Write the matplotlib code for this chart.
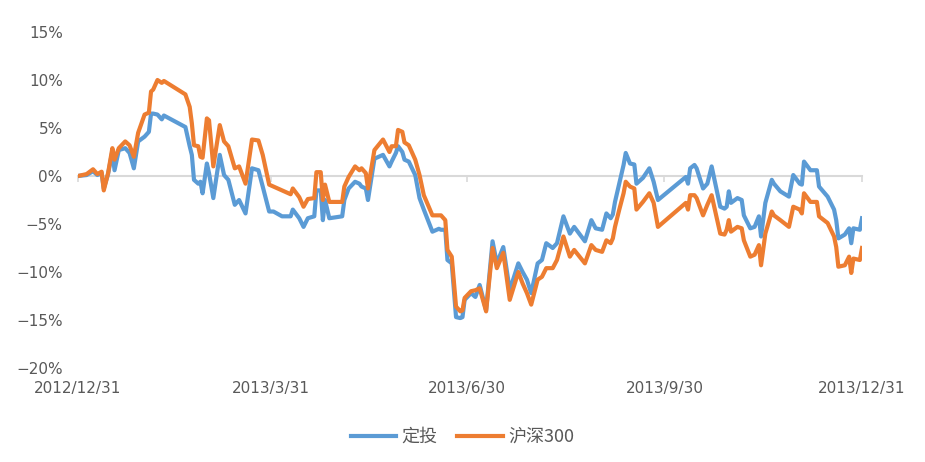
import numpy as np
import pandas as pd
import matplotlib
matplotlib.use("Agg")
import matplotlib.pyplot as plt
from matplotlib.ticker import FuncFormatter

plt.rcParams['font.family'] = ['DejaVu Sans', 'Noto Sans CJK SC']

# days after 2012/12/31
days = [0, 4, 7, 9, 11, 12, 14, 16, 17, 19, 22, 24, 26, 28, 31, 33, 34, 35, 37, 39,
        40, 50, 52, 53, 54, 56, 57, 58, 60, 61, 63, 66, 68, 70, 73, 75, 78, 81, 84, 86,
        89, 91, 95, 99, 100, 103, 105, 107, 110, 111, 113, 114, 115, 117, 123, 124, 126, 129, 131, 132,
        134, 135, 138, 142, 145, 146, 148, 149, 151, 152, 154, 157, 159, 161, 165, 168, 169, 171, 172, 174,
        176, 178, 179, 180, 183, 185, 187, 190, 193, 195, 198, 201, 205, 207, 209, 211, 214, 216, 218, 221,
        223, 226, 229, 231, 236, 239, 241, 244, 246, 248, 249, 250, 252, 254, 255, 257, 259, 260, 263, 266,
        268, 270, 283, 284, 285, 287, 288, 291, 293, 295, 299, 301, 302, 303, 304, 307, 309, 310, 313, 315,
        317, 318, 320, 323, 324, 327, 331, 333, 336, 337, 338, 341, 344, 345, 349, 352, 353, 354, 357, 359,
        360, 361, 364, 365]

dingtou = [0.0, 0.1, 0.5, 0.1, 0.3, -1.3, 0.2, 2.6, 0.6, 2.7, 2.9, 2.4, 0.8, 3.6, 4.1, 4.6, 6.5, 6.5, 6.4, 5.9,
           6.3, 5.1, 3.1, 2.2, -0.4, -0.8, -0.6, -1.8, 1.3, 0.3, -2.3, 2.2, 0.1, -0.4, -3.0, -2.5, -3.9, 0.8, 0.6, -1.1,
           -3.7, -3.7, -4.2, -4.2, -3.5, -4.4, -5.3, -4.4, -4.2, -1.5, -1.5, -4.6, -2.5, -4.4, -4.2, -2.5, -1.3, -0.6, -0.8, -1.1,
           -1.3, -2.5, 1.8, 2.2, 1.0, 1.5, 2.4, 3.1, 2.5, 1.7, 1.5, 0.1, -2.3, -3.5, -5.8, -5.5, -5.6, -5.6, -8.75, -9.1,
           -14.7, -14.8, -14.7, -12.9, -12.2, -12.6, -11.35, -14.0, -6.8, -9.1, -7.4, -11.9, -9.1, -10.0, -10.8, -12.2, -9.1, -8.75, -7.0, -7.5,
           -7.0, -4.2, -6.0, -5.3, -6.8, -4.6, -5.45, -5.6, -3.9, -4.4, -4.0, -2.7, -0.8, 1.15, 2.4, 1.3, 1.2, -0.8, -0.2, 0.8,
           -0.6, -2.5, -0.1, -0.8, 0.8, 1.15, 0.8, -1.3, -0.8, 1.0, -3.2, -3.4, -3.2, -1.6, -2.8, -2.3, -2.5, -4.1, -5.45, -5.3,
           -4.2, -6.3, -2.8, -0.4, -0.8, -1.6, -2.15, 0.1, -0.8, -0.9, 1.5, 0.6, 0.6, -1.1, -2.15, -3.5, -4.6, -6.5, -6.1, -5.45,
           -7.0, -5.45, -5.6, -4.4]

hs300 = [0.0, 0.2, 0.7, 0.2, 0.45, -1.5, 0.3, 2.9, 1.7, 2.9, 3.6, 3.2, 2.0, 4.5, 6.4, 6.6, 8.8, 9.0, 10.0, 9.7,
         9.9, 8.5, 7.2, 5.5, 3.2, 3.1, 2.0, 1.9, 6.0, 5.8, 1.0, 5.3, 3.6, 3.1, 0.8, 1.0, -0.8, 3.8, 3.7, 2.2,
         -0.9, -1.1, -1.5, -1.9, -1.3, -2.2, -3.2, -2.4, -2.3, 0.4, 0.4, -2.5, -0.9, -2.7, -2.7, -1.1, -0.1, 1.0, 0.6, 0.8,
         0.3, -1.3, 2.7, 3.8, 2.5, 3.1, 3.1, 4.8, 4.6, 3.5, 3.2, 1.7, 0.1, -2.0, -4.1, -4.1, -4.1, -4.6, -7.7, -8.4,
         -13.6, -14.1, -14.0, -12.7, -12.0, -11.9, -11.7, -14.1, -7.5, -9.6, -8.0, -12.9, -10.0, -11.2, -12.2, -13.4, -10.8, -10.5, -9.6, -9.6,
         -8.75, -6.3, -8.4, -7.7, -9.1, -7.2, -7.7, -7.9, -6.7, -7.0, -6.5, -5.3, -3.5, -1.8, -0.6, -1.1, -1.3, -3.5, -2.7, -1.8,
         -2.8, -5.3, -2.8, -3.5, -2.0, -2.0, -2.3, -4.1, -3.0, -2.0, -6.0, -6.1, -5.6, -4.6, -5.8, -5.3, -5.45, -6.7, -8.4, -8.2,
         -7.2, -9.3, -6.0, -3.7, -4.1, -4.6, -5.3, -3.2, -3.5, -3.9, -1.8, -2.7, -2.7, -4.2, -4.9, -6.3, -7.4, -9.45, -9.3, -8.4,
         -10.1, -8.6, -8.75, -7.5]

tick_dates = ['2012-12-31', '2013-03-31', '2013-06-30', '2013-09-30', '2013-12-31']
tick_labels = ['2012/12/31', '2013/3/31', '2013/6/30', '2013/9/30', '2013/12/31']
y_ticks = [-20, -15, -10, -5, 0, 5, 10, 15]

dates = pd.Timestamp('2012-12-31') + pd.to_timedelta(days, unit='D')
ticks = pd.to_datetime(tick_dates)

txt = '#595959'
fig = plt.figure(figsize=(9.25, 4.62), dpi=100)
ax = fig.add_axes([78/925, 1-368/462, (862-78)/925, 336/462])

ax.plot(dates, dingtou, color='#5B9BD5', lw=3.0, label='定投', solid_joinstyle='round')
ax.plot(dates, hs300, color='#ED7D31', lw=3.0, label='沪深300', solid_joinstyle='round')

ax.set_ylim(-20, 15)
ax.set_xlim(ticks[0], ticks[-1])
ax.set_yticks(y_ticks)
ax.yaxis.set_major_formatter(FuncFormatter(lambda v, p: f'{v:.0f}%'.replace('-', '\u2212')))

for s in ['top', 'right', 'left']:
    ax.spines[s].set_visible(False)
ax.spines['bottom'].set_position(('data', 0))
ax.spines['bottom'].set_color('#D9D9D9')
ax.spines['bottom'].set_linewidth(1.5)
ax.spines['bottom'].set_zorder(0)
ax.set_xticks(ticks)
ax.tick_params(axis='x', direction='out', length=4, color='#D9D9D9', width=1.2, labelbottom=False)
ax.tick_params(axis='y', length=0, labelsize=11, labelcolor=txt, pad=11)

sec = ax.secondary_xaxis('bottom')
sec.set_xticks(ticks)
sec.set_xticklabels(tick_labels)
sec.spines['bottom'].set_visible(False)
sec.tick_params(length=0, labelsize=11, labelcolor=txt, pad=9)

leg = fig.legend(loc='center', bbox_to_anchor=(0.5, 1-437/462), ncol=2, frameon=False,
                 handlelength=2.5, columnspacing=1.1, handletextpad=0.3,
                 prop={'family': ['Noto Sans CJK SC', 'DejaVu Sans'], 'size': 13})
for t in leg.get_texts():
    t.set_color(txt)

fig.savefig('out.png', dpi=100)
